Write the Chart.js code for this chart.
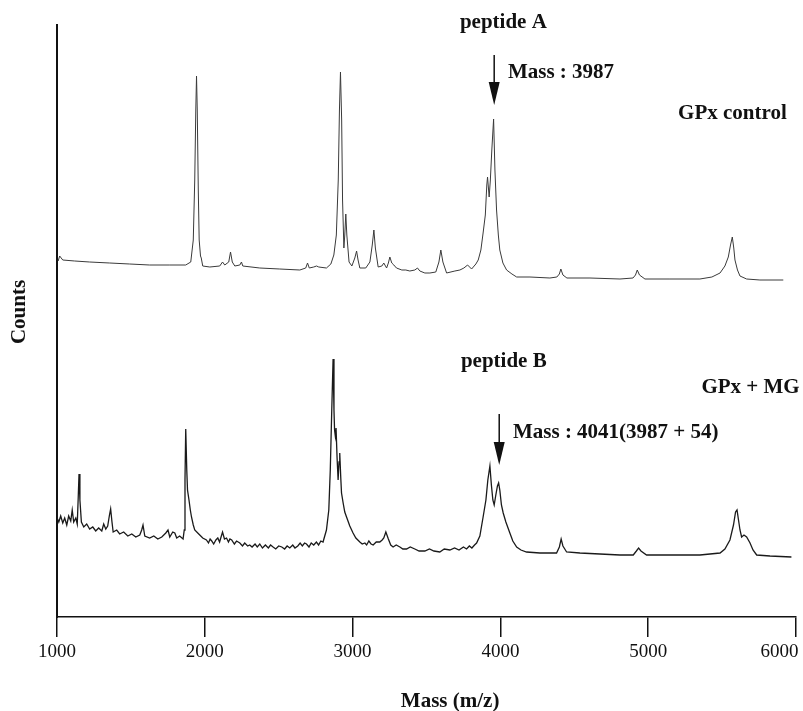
<!DOCTYPE html>
<html>
<head>
<meta charset="utf-8">
<title>Mass spectra: GPx control vs GPx + MG</title>
<script src="https://cdn.jsdelivr.net/npm/chart.js@4.4.1/dist/chart.umd.min.js"></script>
<style>
  html, body { margin: 0; padding: 0; background: #fff; }
  #wrap { width: 803px; height: 711px; position: relative; }
</style>
</head>
<body>
<div id="wrap"><canvas id="spectrumChart"></canvas></div>
<script>
// x axis tick labels (m/z)
const massTicks = [1000, 2000, 3000, 4000, 5000, 6000];

// GPx control trace, [m/z, counts] - counts in arbitrary units on the shared (offset) axis
const controlSpectrum = [
  [1008,356],[1018,361],[1039,357],[1120,356],[1221,355],[1357,354],[1492,353],[1627,352],[1763,352],[1871,352],
  [1905,355],[1922,377],[1932,437],[1939,507],[1944,541],[1949,507],[1956,427],[1962,377],[1971,361],[1976,359],
  [1986,351],[2034,350],[2101,351],[2120,355],[2135,352],[2162,355],[2174,365],[2186,355],[2203,351],[2237,352],
  [2248,355],[2257,351],[2372,349],[2507,348],[2643,347],[2683,349],[2695,354],[2707,349],[2737,350],[2756,351],
  [2771,350],[2823,349],[2853,353],[2873,362],[2890,382],[2903,437],[2911,507],[2918,545],[2926,497],[2932,417],
  [2941,369],[2947,382],[2954,403],[2961,382],[2976,355],[2995,351],[3015,359],[3027,366],[3037,357],[3049,349],
  [3089,349],[3117,355],[3133,372],[3144,387],[3154,369],[3173,350],[3198,351],[3211,354],[3230,349],[3242,354],
  [3252,360],[3265,354],[3279,352],[3297,349],[3333,347],[3360,347],[3387,346],[3421,347],[3439,349],[3455,346],
  [3489,344],[3523,344],[3563,345],[3584,355],[3597,367],[3611,355],[3636,344],[3692,346],[3726,347],[3753,349],
  [3778,352],[3805,348],[3834,353],[3850,357],[3868,367],[3883,384],[3898,402],[3908,432],[3913,440],[3924,420],
  [3932,437],[3942,467],[3954,498],[3963,447],[3974,407],[3986,382],[3996,367],[4017,354],[4042,347],[4078,343],
  [4110,340],[4200,340],[4335,339],[4382,340],[4399,343],[4409,348],[4423,342],[4450,339],[4606,339],[4809,338],
  [4897,339],[4914,342],[4926,347],[4941,342],[4978,338],[5147,338],[5350,338],[5431,340],[5486,344],[5519,351],
  [5542,360],[5557,372],[5569,380],[5579,369],[5587,357],[5604,347],[5621,341],[5666,338],[5756,337],[5914,337]
];

// GPx + MG trace, [m/z, counts]
const mgSpectrum = [
  [1000,117],[1001,99],[1012,95],[1025,101],[1039,94],[1052,99],[1066,92],[1079,101],[1093,96],[1103,107],
  [1113,95],[1127,99],[1137,93],[1143,117],[1149,143],[1155,117],[1165,95],[1181,90],[1201,93],[1221,88],
  [1242,90],[1262,86],[1282,89],[1303,86],[1316,93],[1330,88],[1343,91],[1355,102],[1363,108],[1372,95],
  [1380,85],[1404,87],[1424,83],[1451,85],[1479,81],[1506,83],[1533,80],[1560,82],[1573,87],[1582,92],
  [1594,81],[1627,79],[1655,81],[1682,78],[1709,80],[1736,84],[1751,87],[1763,80],[1783,85],[1797,84],
  [1810,79],[1830,81],[1853,78],[1861,87],[1866,137],[1871,188],[1878,147],[1883,127],[1893,117],[1902,107],
  [1910,100],[1922,92],[1932,87],[1959,83],[1986,79],[2011,77],[2025,74],[2036,78],[2047,76],[2060,73],
  [2075,77],[2088,79],[2100,75],[2110,80],[2120,85],[2133,78],[2147,79],[2160,75],[2170,78],[2182,77],
  [2200,73],[2215,76],[2237,74],[2255,71],[2270,74],[2290,71],[2304,72],[2320,70],[2340,73],[2355,70],
  [2372,73],[2390,69],[2410,72],[2430,69],[2445,72],[2462,70],[2480,68],[2500,71],[2521,70],[2540,68],
  [2557,71],[2575,69],[2595,72],[2610,69],[2629,71],[2645,74],[2660,71],[2675,74],[2688,73],[2705,70],
  [2720,74],[2737,72],[2755,75],[2770,72],[2785,76],[2800,75],[2823,87],[2839,107],[2849,147],[2859,207],
  [2868,258],[2874,207],[2878,187],[2883,181],[2888,189],[2895,159],[2902,137],[2908,155],[2913,164],[2920,139],
  [2925,124],[2936,114],[2947,105],[2959,100],[2981,91],[3003,84],[3022,79],[3049,75],[3065,73],[3083,74],
  [3095,72],[3110,76],[3125,73],[3139,72],[3160,75],[3184,75],[3200,77],[3211,79],[3225,85],[3242,78],
  [3258,72],[3274,70],[3295,72],[3320,70],[3340,68],[3365,68],[3390,70],[3421,68],[3450,66],[3489,66],
  [3520,68],[3550,66],[3590,65],[3620,68],[3658,67],[3690,69],[3720,67],[3750,70],[3771,68],[3790,71],
  [3807,69],[3825,72],[3839,74],[3861,81],[3883,100],[3902,117],[3915,137],[3929,151],[3939,132],[3949,117],
  [3958,112],[3969,122],[3980,131],[3988,134],[3996,127],[4007,112],[4019,104],[4037,95],[4064,84],[4084,76],
  [4110,70],[4139,67],[4177,65],[4267,64],[4380,64],[4399,70],[4411,78],[4423,71],[4448,65],[4538,64],
  [4673,63],[4809,62],[4899,62],[4920,66],[4935,69],[4951,66],[4989,62],[5147,62],[5350,62],[5486,64],
  [5519,68],[5553,77],[5577,92],[5591,105],[5601,107],[5611,97],[5621,87],[5632,80],[5648,82],[5666,80],
  [5689,74],[5709,67],[5734,62],[5824,61],[5969,60]
];

// arrows marking the peptide peaks: [m/z, tail counts, tip counts]
const peakArrows = [
  [3958, 562, 512],
  [3992, 203, 152]
];

// text labels, anchored (left edge, middle) in data coordinates
const labels = [
  { text: 'peptide A', mass: 3726, counts: 594 },
  { text: 'Mass : 3987', mass: 4051, counts: 544 },
  { text: 'GPx control', mass: 5202, counts: 503 },
  { text: 'peptide B', mass: 3733, counts: 255 },
  { text: 'GPx + MG', mass: 5360, counts: 229 },
  { text: 'Mass : 4041(3987 + 54)', mass: 4085, counts: 184 }
];

const serif = '"Liberation Serif", "Times New Roman", serif';
const ink = '#111111';

const annotationPlugin = {
  id: 'spectrumAnnotations',
  afterDatasetsDraw(chart) {
    const { ctx, chartArea, scales: { x, y } } = chart;
    ctx.save();
    ctx.fillStyle = ink;
    ctx.strokeStyle = ink;

    // labels
    ctx.font = 'bold 21px ' + serif;
    ctx.textAlign = 'left';
    ctx.textBaseline = 'middle';
    labels.forEach(l => {
      ctx.fillText(l.text, x.getPixelForValue(l.mass), y.getPixelForValue(l.counts));
    });

    // arrows
    peakArrows.forEach(([m, tail, tip]) => {
      const px = x.getPixelForValue(m);
      const y0 = y.getPixelForValue(tail);
      const y1 = y.getPixelForValue(tip);
      ctx.lineWidth = 1.5;
      ctx.beginPath();
      ctx.moveTo(px, y0);
      ctx.lineTo(px, y1 - 20);
      ctx.stroke();
      ctx.beginPath();
      ctx.moveTo(px - 5.5, y1 - 23);
      ctx.lineTo(px + 5.5, y1 - 23);
      ctx.lineTo(px, y1);
      ctx.closePath();
      ctx.fill();
    });

    // axis titles
    ctx.font = 'bold 21px ' + serif;
    ctx.textAlign = 'center';
    ctx.fillText('Mass (m/z)', chartArea.left + (chartArea.right - chartArea.left) * 0.532, chart.height - 9);
    ctx.translate(20, (chartArea.top + chartArea.bottom) / 2 - 9);
    ctx.rotate(-Math.PI / 2);
    ctx.fillText('Counts', 0, 0);
    ctx.restore();
  }
};

const ctx = document.getElementById('spectrumChart').getContext('2d');
const spectrumChart = new Chart(ctx, {
  type: 'line',
  data: {
    datasets: [{
      label: 'GPx control',
      data: controlSpectrum.map(([x, y]) => ({ x, y })),
      borderColor: '#3a3a3a',
      borderWidth: 1,
      pointRadius: 0,
      tension: 0,
      fill: false
    }, {
      label: 'GPx + MG',
      data: mgSpectrum.map(([x, y]) => ({ x, y })),
      borderColor: '#1a1a1a',
      borderWidth: 1.3,
      pointRadius: 0,
      tension: 0,
      fill: false
    }]
  },
  options: {
    responsive: true,
    maintainAspectRatio: false,
    animation: false,
    layout: {
      padding: { top: 25, right: 7, bottom: 0, left: 0 }
    },
    plugins: {
      legend: { display: false },
      tooltip: { enabled: false }
    },
    scales: {
      x: {
        type: 'linear',
        min: 1000,
        max: 6000,
        afterBuildTicks: scale => {
          scale.ticks = massTicks.map(v => ({ value: v }));
        },
        afterFit: scale => {
          // let the end labels overhang instead of shrinking the plot
          scale.height = 94;
          scale.paddingLeft = 0;
          scale.paddingRight = 0;
        },
        grid: {
          drawOnChartArea: false,
          drawTicks: true,
          tickLength: 20,
          color: ink,
          lineWidth: 1.5
        },
        border: { display: true, color: ink, width: 1.5 },
        ticks: {
          color: ink,
          padding: 4,
          maxRotation: 0,
          font: { family: serif, size: 19 },
          // trailing spaces pull the last label back inside the page, as in the original
          callback: (v, i, ticks) => i === ticks.length - 1 ? v + '       ' : String(v)
        }
      },
      y: {
        min: 0,
        max: 592,
        afterFit: scale => { scale.width = 57; },
        grid: { display: false },
        border: { display: true, color: ink, width: 2 },
        ticks: { display: false }
      }
    }
  },
  plugins: [annotationPlugin]
});
</script>
</body>
</html>
